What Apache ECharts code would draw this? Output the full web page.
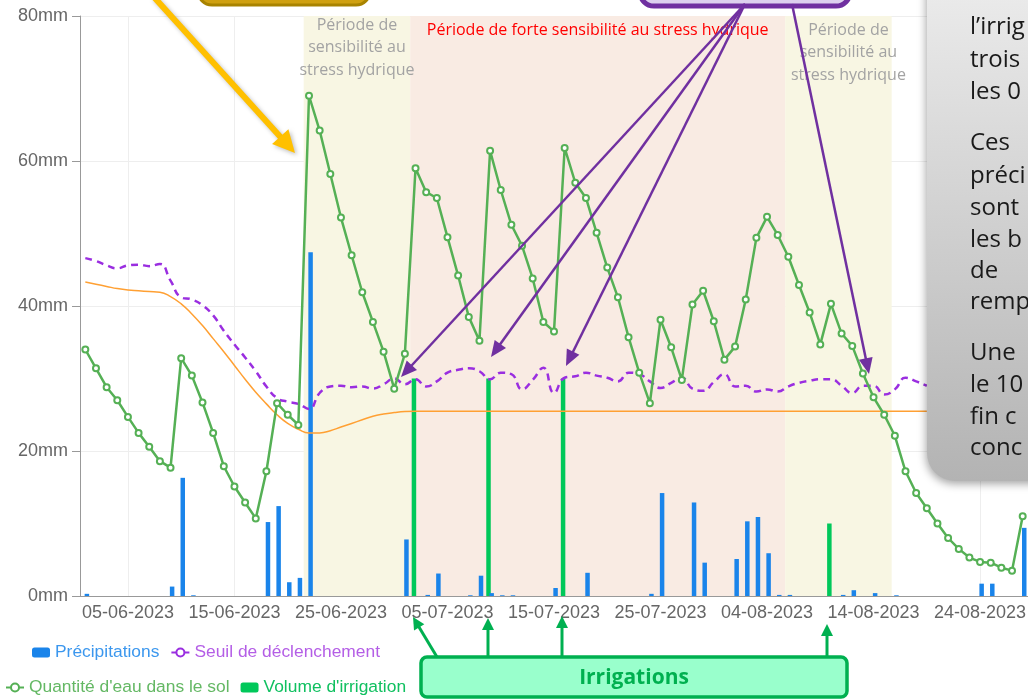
<!DOCTYPE html>
<html><head><meta charset="utf-8">
<script src="https://cdn.jsdelivr.net/npm/echarts/dist/echarts.min.js"></script>
<style>html,body{margin:0;padding:0;background:#fff;overflow:hidden}#c{width:1028px;height:700px}</style>
</head><body><div id="c"></div>
<script>
const dates = [
'01-06-2023','02-06-2023','03-06-2023','04-06-2023','05-06-2023','06-06-2023','07-06-2023','08-06-2023','09-06-2023','10-06-2023',
'11-06-2023','12-06-2023','13-06-2023','14-06-2023','15-06-2023','16-06-2023','17-06-2023','18-06-2023','19-06-2023','20-06-2023',
'21-06-2023','22-06-2023','23-06-2023','24-06-2023','25-06-2023','26-06-2023','27-06-2023','28-06-2023','29-06-2023','30-06-2023',
'01-07-2023','02-07-2023','03-07-2023','04-07-2023','05-07-2023','06-07-2023','07-07-2023','08-07-2023','09-07-2023','10-07-2023',
'11-07-2023','12-07-2023','13-07-2023','14-07-2023','15-07-2023','16-07-2023','17-07-2023','18-07-2023','19-07-2023','20-07-2023',
'21-07-2023','22-07-2023','23-07-2023','24-07-2023','25-07-2023','26-07-2023','27-07-2023','28-07-2023','29-07-2023','30-07-2023',
'31-07-2023','01-08-2023','02-08-2023','03-08-2023','04-08-2023','05-08-2023','06-08-2023','07-08-2023','08-08-2023','09-08-2023',
'10-08-2023','11-08-2023','12-08-2023','13-08-2023','14-08-2023','15-08-2023','16-08-2023','17-08-2023','18-08-2023','19-08-2023',
'20-08-2023','21-08-2023','22-08-2023','23-08-2023','24-08-2023','25-08-2023','26-08-2023','27-08-2023','28-08-2023'
];
const precipitations = [
0.3,0,0,0,0,0,0,0,1.3,16.3,
0.1,0,0,0,0,0,0,10.2,12.4,1.9,
2.5,47.4,0,0,0,0,0,0,0,0,
7.8,0,0.15,3.1,0,0,0.1,2.8,0.4,0.1,
0.1,0,0,0,1.1,0,0,3.2,0,0,
0,0,0,0.3,14.2,0,0,12.9,4.6,0,
0,5.1,10.3,10.9,5.9,0.15,0.15,0,0,0,
0,0.15,0.8,0,0.4,0,0.1,0,0,0,
0,0,0,0,1.7,1.7,0,0,9.4
];
const irrigation = [
0,0,0,0,0,0,0,0,0,0,
0,0,0,0,0,0,0,0,0,0,
0,0,0,0,0,0,0,0,0,0,
0,30,0,0,0,0,0,0,30,0,
0,0,0,0,0,30,0,0,0,0,
0,0,0,0,0,0,0,0,0,0,
0,0,0,0,0,0,0,0,0,0,
10,0,0,0,0,0,0,0,0,0,
0,0,0,0,0,0,0,0,0
];
const soilWater = [
34.0,31.4,28.8,27.0,24.7,22.5,20.6,18.6,17.7,32.8,
30.4,26.7,22.5,17.9,15.1,12.9,10.7,17.2,26.6,25.0,
23.6,69.0,64.2,58.2,52.2,47.0,41.9,37.8,33.7,28.6,
33.4,59.0,55.7,54.9,49.5,44.2,38.5,35.2,61.4,56.0,
51.2,48.3,43.8,37.8,36.5,61.8,57.0,54.9,50.1,45.3,
41.2,35.7,30.8,26.6,38.1,34.3,29.8,40.2,42.1,37.9,
32.6,34.4,40.9,49.4,52.3,49.8,46.8,42.9,39.1,34.7,
40.3,36.2,34.5,30.7,27.4,25.0,22.1,17.2,14.2,12.1,
10.0,8.0,6.5,5.3,4.7,4.6,3.9,3.5,11.0
];
const threshold = [
46.6,46.2,45.6,45.2,45.6,45.7,45.5,45.8,43.5,41.2,
40.9,40.1,38.7,36.6,34.7,32.9,31.0,28.9,27.3,26.8,
26.5,25.8,28.0,28.9,29.0,28.8,28.9,28.6,29.2,30.0,
29.2,29.9,28.9,29.6,30.8,31.2,31.4,31.0,29.9,30.8,
30.6,28.5,29.8,31.5,28.0,30.1,30.3,30.8,30.4,30.1,
29.6,30.8,30.6,29.6,28.7,29.4,30.1,28.6,28.3,29.5,
30.6,28.9,29.0,28.2,28.5,28.2,28.9,29.4,29.7,29.9,
29.9,29.0,28.0,29.0,29.0,27.8,28.5,30.1,29.6,29.0
];
const reserve = [
43.3,43.0,42.7,42.4,42.2,42.1,42.0,41.9,41.3,40.3,
38.9,37.3,35.5,33.7,31.8,29.9,28.1,26.5,25.0,23.8,
23.0,22.5,22.5,22.8,23.3,23.8,24.3,24.8,25.1,25.3,
25.45,25.5,25.5,25.5,25.5,25.5,25.5,25.5,25.5,25.5,
25.5,25.5,25.5,25.5,25.5,25.5,25.5,25.5,25.5,25.5,
25.5,25.5,25.5,25.5,25.5,25.5,25.5,25.5,25.5,25.5,
25.5,25.5,25.5,25.5,25.5,25.5,25.5,25.5,25.5,25.5,
25.5,25.5,25.5,25.5,25.5,25.5,25.5,25.5,25.5,25.5
];
// sensitivity periods, in day positions along the axis
const bandNames = ['Période de\nsensibilité au\nstress hydrique', 'Période de forte sensibilité au stress hydrique', 'Période de\nsensibilité au\nstress hydrique'];
const bandFrom = [21, 31, 66.2];
const bandTo = [31, 66.2, 76.2];
const yTickLabels = ['0mm','20mm','40mm','60mm','80mm'];
const calloutLines = ['l’irrig','trois','les 0','Ces','préci','sont','les b','de','remp','Une','le 10','fin c','conc'];

const chart = echarts.init(document.getElementById('c'), null, {renderer:'canvas'});
const labelEvery = (i) => i % 10 === 4;
const AX = 'Liberation Sans, Arial, sans-serif';
const SEG = '"Open Sans", "Noto Sans", sans-serif';

const bandStyles = [
  {color:'#f8f6e3', label:{color:'#a3a3a3', offset:[0,-2]}},
  {color:'#f9ebe3', label:{color:'#ff0000', offset:[0,3]}},
  {color:'#f8f6e3', label:{color:'#a3a3a3', offset:[10,3]}}
];
const markAreaData = bandNames.map((n, k) => [
  {name:n, xAxis:bandFrom[k], yAxis:0, itemStyle:{color:bandStyles[k].color},
   label:Object.assign({show:true, position:'insideTop', distance:0, fontSize:16, lineHeight:22.5, fontFamily:SEG}, bandStyles[k].label)},
  {xAxis:bandTo[k], yAxis:80}
]);

function arrow(x1,y1,x2,y2,color,w,hl,hw,extra){
  const dx=x2-x1, dy=y2-y1, L=Math.sqrt(dx*dx+dy*dy), ux=dx/L, uy=dy/L;
  const bx=x2-ux*hl, by=y2-uy*hl, px=-uy, py=ux;
  const ex = extra || {};
  return [
    {type:'line', z:100, shape:{x1:x1,y1:y1,x2:bx+ux*1,y2:by+uy*1}, style:Object.assign({stroke:color, lineWidth:w}, ex)},
    {type:'polygon', z:101, shape:{points:[[x2,y2],[bx+px*hw/2,by+py*hw/2],[bx-px*hw/2,by-py*hw/2]]}, style:Object.assign({fill:color}, ex)}
  ];
}

const calloutY = [27,60,92,143,176,208,240,271,302,353,385,417,448];
const graphics = [];
// right grey callout
graphics.push({type:'rect', z:90, shape:{x:927,y:-40,width:160,height:521,r:[0,0,0,28]},
  style:{fill:new echarts.graphic.LinearGradient(0,0,0,1,[{offset:0,color:'#eeeeee'},{offset:1,color:'#b3b3b3'}]),
  shadowBlur:8, shadowColor:'rgba(0,0,0,0.35)', shadowOffsetX:-1, shadowOffsetY:3}});
calloutLines.forEach((t,k)=>graphics.push({type:'text', z:91, style:{text:t, x:970, y:calloutY[k], fill:'#1a1a1a', font:'24px "Open Sans", "Noto Sans", sans-serif', verticalAlign:'middle'}}));
// top callouts (bottom edges only visible)
graphics.push({type:'rect', z:90, shape:{x:198,y:-40,width:172,height:45,r:14}, style:{fill:'#cfa010', stroke:'#a88300', lineWidth:3}});
graphics.push({type:'rect', z:90, shape:{x:640,y:-40,width:210,height:46,r:14}, style:{fill:'#ddd0ee', stroke:'#7030a0', lineWidth:5}});
// yellow arrow
graphics.push(...arrow(153,-4,295,153,'#ffc000',6,22,22,{shadowBlur:4, shadowColor:'rgba(0,0,0,0.25)', shadowOffsetX:2, shadowOffsetY:2}));
// purple arrows
[[401,377],[491,357],[566,366]].forEach(p=>graphics.push(...arrow(745,4,p[0],p[1],'#7030a0',2.5,16,14)));
graphics.push(...arrow(792,4,869,374,'#7030a0',2.5,16,14));
// green irrigation callout
graphics.push({type:'rect', z:100, shape:{x:421,y:657,width:426,height:40,r:6}, style:{fill:'#99ffcc', stroke:'#00b050', lineWidth:3.5}});
graphics.push({type:'text', z:101, style:{text:'Irrigations', x:634, y:678, fill:'#00b050', font:'bold 21px "Open Sans", "Noto Sans", sans-serif', align:'center', verticalAlign:'middle'}});
[[437,657,413,617],[488,657,488,618],[562,657,562,616],[827,657,827,624]].forEach(a=>graphics.push(...arrow(a[0],a[1],a[2],a[3],'#00b050',3,12,12)));

const legendBase = {orient:'horizontal', padding:0, itemWidth:18, itemHeight:10, itemGap:11,
  textStyle:{fontSize:17.4, fontFamily:AX}, lineStyle:{type:'solid'}};

chart.setOption({
  animation:false,
  backgroundColor:'#ffffff',
  grid:{left:80, top:16, width:948, height:580, containLabel:false, outerBoundsMode:'none'},
  legend:[
    Object.assign({}, legendBase, {left:32, top:644, data:[
      {name:'Précipitations', textStyle:{color:'#3b97ee'}},
      {name:'Seuil de déclenchement', textStyle:{color:'#b45ee6'}}]}),
    Object.assign({}, legendBase, {left:5, top:679, data:[
      {name:'Quantité d\'eau dans le sol', textStyle:{color:'#64b864'}},
      {name:'Volume d\'irrigation', textStyle:{color:'#10c060'}}]})
  ],
  xAxis:[
    {type:'category', data:dates, boundaryGap:true,
     axisLine:{lineStyle:{color:'#999', width:1}},
     axisTick:{alignWithLabel:true, interval:labelEvery, length:8, lineStyle:{color:'#999'}},
     axisLabel:{interval:labelEvery, color:'#666', fontSize:18, fontFamily:AX, margin:8},
     splitLine:{show:true, interval:labelEvery, alignWithLabel:true, lineStyle:{color:'#eeeeee'}}},
    {type:'value', min:0, max:dates.length, show:false}
  ],
  yAxis:{type:'value', min:0, max:80, interval:20,
    axisLine:{show:true, lineStyle:{color:'#999'}},
    axisTick:{show:true, length:8, lineStyle:{color:'#999'}},
    axisLabel:{formatter:(v)=>yTickLabels[v/20], color:'#666', fontSize:18, fontFamily:AX, margin:12},
    splitLine:{show:true, lineStyle:{color:'#eeeeee'}}},
  series:[
    {type:'line', name:'bands', xAxisIndex:1, data:[], silent:true, z:0,
     markArea:{silent:true, z:0, data:markAreaData}},
    {type:'bar', name:'Volume d\'irrigation', data:irrigation, barWidth:4.5, barGap:'-30%', itemStyle:{color:'#00c85a'}, z:3},
    {type:'bar', name:'Précipitations', data:precipitations, barWidth:4.5, barGap:'-30%', itemStyle:{color:'#1a84ea'}, z:3},
    {type:'line', name:'RFU', data:reserve, smooth:true, showSymbol:false, symbol:'none', lineStyle:{color:'#ffa033', width:1.5}, itemStyle:{color:'#ffa033'}, z:4},
    {type:'line', name:'Seuil de déclenchement', data:threshold, smooth:true, showSymbol:false, symbol:'emptyCircle', symbolSize:6,
     lineStyle:{color:'#9a2ee0', width:2.5, type:[7,5]}, itemStyle:{color:'#9a2ee0'}, z:5},
    {type:'line', name:'Quantité d\'eau dans le sol', data:soilWater, symbol:'emptyCircle', symbolSize:6, showSymbol:true,
     lineStyle:{color:'#55b055', width:2.5}, itemStyle:{color:'#55b055', borderWidth:1.8}, z:6}
  ],
  graphic:{elements:graphics}
});
</script></body></html>
